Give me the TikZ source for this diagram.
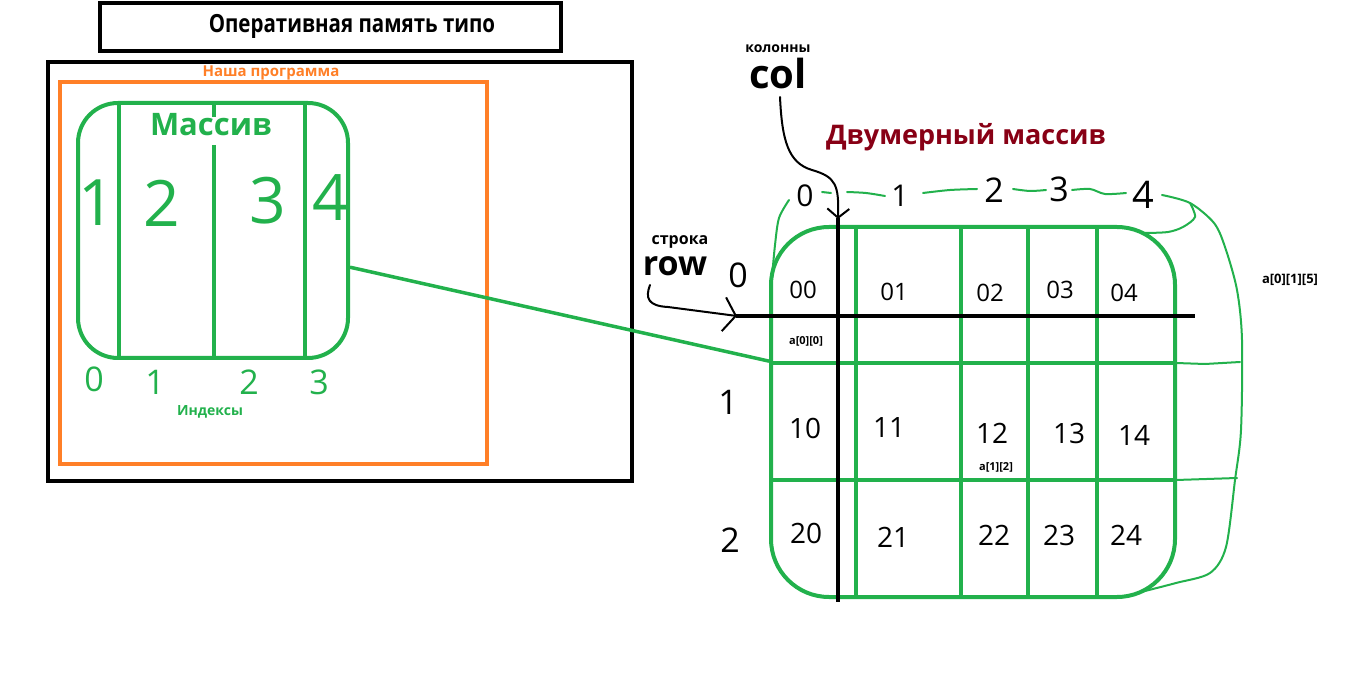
\documentclass[tikz,border=0pt]{standalone}
\usepackage{fontspec}
\setmainfont{Open Sans}
\usetikzlibrary{arrows.meta}
\definecolor{pgreen}{HTML}{22B14C}
\definecolor{porange}{HTML}{FF7F27}
\definecolor{pred}{HTML}{880015}
\tikzset{
  fs/.style={font=\fontsize{#1}{#1}\selectfont},
  fb/.style={font=\bfseries\fontsize{#1}{#1}\selectfont},
  arrline/.style={draw=pgreen, line width=4pt},
  thinline/.style={pgreen, line width=2pt, line cap=round},
  axis/.style={black, line width=4pt},
  pen/.style={black, line width=2pt, line cap=round},
  hand/.style={fs=28, inner sep=0pt},
  bigdigit/.style={fs=64, text=pgreen, inner sep=0pt},
  idx/.style={fs=34, text=pgreen, inner sep=0pt},
}
\begin{document}
\begin{tikzpicture}[x=1pt, y=-1pt]
    \useasboundingbox (0,0) rectangle (1349,684);
    % ram box
    \draw[line width=4pt] (100,3) rectangle (561,51);
    \node[fb=25] (ram) at (352,26) {\scalebox{0.82}[1]{Оперативная память типо}};
    \draw[line width=4pt] (48,62) rectangle (632,481);
    \draw[porange, line width=4pt] (60,82) rectangle (487,464);
    \node[fb=15, text=porange] (prog) at (271,73) {Наша программа};
    % one-dimensional array
    \node[arrline, rounded corners=40, minimum width=270, minimum height=255] (arr) at (213,230.5) {};
    \draw[arrline] (119,103) -- (119,358);
    \draw[arrline] (214,103) -- (214,117);
    \draw[arrline] (214,145) -- (214,358);
    \draw[arrline] (305,103) -- (305,358);
    \node[fb=31, text=pgreen] (mas) at (211,125) {Массив};
    \node[bigdigit] (v1) at (97,203) {1};
    \node[bigdigit] (v2) at (162,203) {2};
    \node[bigdigit] (v3) at (268,201) {3};
    \node[bigdigit] (v4) at (331,198) {4};
    \node[idx] (i0) at (94,379) {0};
    \node[idx] (i1) at (155,382) {1};
    \node[idx] (i2) at (249,382) {2};
    \node[idx] (i3) at (319,382) {3};
    \node[fb=14, text=pgreen] (ind) at (210,412) {Индексы};
    % two-dimensional array
    \node[fb=27, text=pred] (title2) at (966,137) {Двумерный массив};
    \node[arrline, rounded corners=58, minimum width=404, minimum height=370] (grid) at (973,412) {};
    \foreach \x in {856,961,1028,1097}
        \draw[arrline] (\x,227) -- (\x,597);
    \foreach \y in {363,480}
        \draw[arrline] (771,\y) -- (1175,\y);
    \draw[arrline, line width=3.5pt] (arr.-15) -- (grid.166.6);
    \draw[axis] (838,218) -- (838,602);
    \draw[axis] (736,316) -- (1195,316);
    % wavy outline
    \draw[thinline] plot[smooth] coordinates {(772,277) (775,245) (779,218) (789,200)};
    \draw[thinline] (822,192) -- (831,193);
    \draw[thinline] plot[smooth] coordinates {(847,192) (866,193) (885,196)};
    \draw[thinline] plot[smooth] coordinates {(923,193) (950,190) (977,189)};
    \draw[thinline] plot[smooth] coordinates {(1013,189) (1030,191) (1046,190)};
    \draw[thinline] plot[smooth] coordinates {(1072,190) (1090,189) (1105,194) (1126,193)};
    \draw[thinline] plot[smooth] coordinates {(1162,195) (1190,203) (1214,223) (1225,247) (1237,290) (1242,340) (1241,430) (1235,480) (1226,547) (1210,573) (1176,583) (1137,593)};
    \draw[thinline] plot[smooth] coordinates {(1190,203) (1195,217) (1183,227) (1168,232) (1145,233)};
    \draw[thinline] (1176,363) -- (1205,364) -- (1240,362);
    \draw[thinline] (1176,480) -- (1237,478);
    % indices of the cells
    \node[hand, fs=24] (c00) at (803,290) {00};
    \node[hand, fs=24] (c01) at (894,292) {01};
    \node[hand, fs=24] (c02) at (990,293) {02};
    \node[hand, fs=24] (c03) at (1060,290) {03};
    \node[hand, fs=24] (c04) at (1124,293) {04};
    \node[hand] (c10) at (805,428) {10};
    \node[hand] (c11) at (889,428) {11};
    \node[hand] (c12) at (992,433) {12};
    \node[hand] (c13) at (1069,433) {13};
    \node[hand] (c14) at (1134,435) {14};
    \node[hand] (c20) at (806,533) {20};
    \node[hand] (c21) at (893,537) {21};
    \node[hand] (c22) at (994,535) {22};
    \node[hand] (c23) at (1059,535) {23};
    \node[hand] (c24) at (1126,535) {24};
    \node[hand, fs=34] (r0) at (738,275) {0};
    \node[hand, fs=34] (r1) at (728,402) {1};
    \node[hand, fs=34] (r2) at (730,540) {2};
    \node[hand, fs=30] (k0) at (805,196) {0};
    \node[hand, fs=30] (k1) at (900,196) {1};
    \node[hand, fs=34] (k2) at (994,190) {2};
    \node[hand, fs=34] (k3) at (1059,189) {3};
    \node[hand, fs=38] (k4) at (1143,195) {4};
    \node[fb=11] (a00) at (806,341) {a[0][0]};
    \node[fb=11] (a12) at (996,467) {a[1][2]};
    \node[fb=13] (a015) at (1290,280) {a[0][1][5]};
    % col and row
    \node[fb=14] (kol) at (778,49) {колонны};
    \node[fb=40, inner sep=0pt] (col) at (778,74) {col};
    \coordinate (colaxis) at (838,219);
    \draw[pen, -{Straight Barb[length=9pt, width=22pt]}] (780,97) .. controls (782,140) and (788,163) .. (812,170) .. controls (836,177) and (839,185) .. (colaxis);
    \node[fb=16] (str) at (680,242) {строка};
    \node[fb=34, inner sep=0pt] (row) at (675,266) {row};
    \coordinate (rowaxis) at (737,316);
    \draw[pen, -{Straight Barb[length=12pt, width=34pt]}] (650,285) .. controls (645,298) and (648,306) .. (668,307) -- (rowaxis);
\end{tikzpicture}
\end{document}
